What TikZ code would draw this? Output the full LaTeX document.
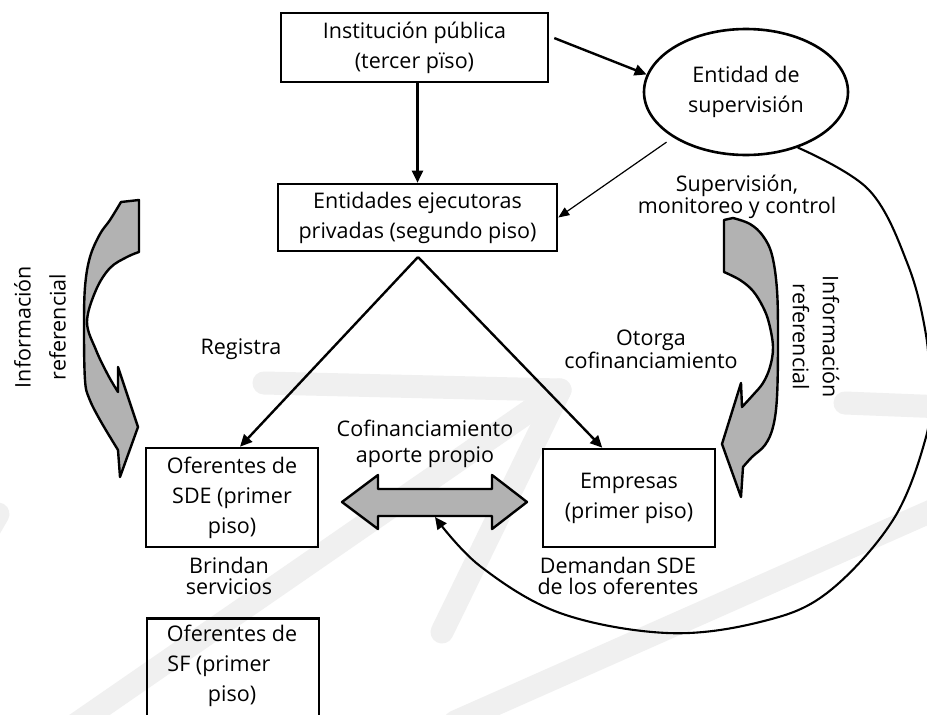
\documentclass[tikz,border=0pt]{standalone}
\usepackage{fontspec}
\setmainfont{Open Sans}
\usetikzlibrary{arrows.meta,shapes.geometric}
\newcommand\dgboxfont{\fontsize{21.5}{30}\selectfont}
\newcommand\dglblfont{\fontsize{21.5}{21}\selectfont}
\begin{document}
\begin{tikzpicture}[x=1pt,y=-1pt,
  box/.style={draw, line width=2.6pt, inner sep=0pt, align=center, font=\dgboxfont},
  lbl/.style={inner sep=0pt, align=center, font=\dglblfont},
  arr/.style={line width=2.4pt, -{Triangle[length=12pt,width=11pt]}},
  thinarr/.style={line width=1.2pt, -{Triangle[length=11pt,width=9pt]}},
  bigshape/.style={draw, line width=2.4pt, fill=black!30, line join=round},
  wmark/.style={line width=23pt, draw=black!6, line cap=round, line join=round}
]
\fill[white] (0,0) rectangle (927,715);
\useasboundingbox (0,0) rectangle (927,715);

% faint background strokes
\draw[wmark] (264,383) -- (560,390) -- (442,632);
\draw[wmark] (46,745) -- (560,390);
\draw[wmark] (845,403) -- (945,407);
\draw[wmark] (455,722) -- (945,505);
\draw[wmark] (-20,545) -- (-2,514);

% boxes
\node[box, minimum width=267pt, minimum height=69pt] (inst) at (414.5,47.5)
  {Institución pública\\(tercer pïso)};
\node[box, minimum width=279pt, minimum height=67pt] (ejec) at (417.5,217.5)
  {Entidades ejecutoras\\privadas (segundo piso)};
\node[draw, ellipse, line width=2.6pt, inner sep=0pt, minimum width=204pt,
  minimum height=126pt, align=center, font=\dgboxfont] (sup) at (746,92)
  {Entidad de\\supervisión};
\node[box, minimum width=172pt, minimum height=99pt] (sde) at (232,497.5)
  {Oferentes de\\SDE (primer\\piso)};
\node[box, minimum width=172pt, minimum height=98pt] (emp) at (629,498)
  {Empresas\\(primer piso)};
\node[box, anchor=north, minimum width=172pt, minimum height=140pt] (sf) at (233,617) {};
\node[lbl, font=\dgboxfont] (sftxt) at (232,666)
  {Oferentes de\\SF (primer\rule{26pt}{0pt}\\piso)};

% labels
\node[lbl, font={\fontsize{21.5}{22}\selectfont}] (lsup) at (737,197)
  {Supervisión,\\monitoreo y control};
\node[lbl] (lreg) at (241,349.5) {Registra};
\node[lbl] (lotor) at (651,349) {Otorga\\cofinanciamiento};
\node[lbl, font={\fontsize{21.5}{26}\selectfont}] (lcof) at (425,444)
  {Cofinanciamiento\\aporte propio};
\node[lbl] (lbrin) at (229,576) {Brindan\\servicios};
\node[lbl] (ldem) at (618,576) {Demandan SDE\\de los oferentes};
\node[lbl, rotate=90, font={\fontsize{21.5}{35}\selectfont}] (linfl) at (40,327)
  {Información\\referencial};
\node[lbl, rotate=-90, font={\fontsize{21.5}{30}\selectfont}] (linfr) at (816,337)
  {Información\\referencial};

% connectors
\draw[arr] (inst.south -| ejec.north) -- (ejec.north);
\draw[arr] ([xshift=5pt]inst.4) -- (sup.170);
\draw[thinarr, shorten <=8pt] (sup.212) -- (ejec.east);
\coordinate (apex) at (418,257);
\draw[arr] (apex) -- (sde.81);
\draw[arr] (apex) -- (emp.118);

% double arrow between providers and firms
\draw[bigshape] (342,502) -- (378,475) -- (378,489) -- (492,489) -- (492,475)
  -- (527,502) -- (492,529) -- (492,516) -- (378,516) -- (378,529) -- cycle;
\coordinate (dblbot) at (435,517);

% return arc from the supervising entity
\draw[arr, line width=2.1pt] plot[smooth, tension=0.6] coordinates {(sup.-47) (869,190)
  (908,265) (926,335) (929,390) (926,437) (893,520) (827,593) (760,622) (667,633)
  (560,613) (480,566) (dblbot)};

% curved arrows on the left and right
\draw[bigshape] (139,200) -- (121,202) -- plot[smooth, tension=0.6] coordinates {(121,202)
  (110,220) (100,234) (90,257) (85,287) (84,330) (85,380) (89,398) (100,420) (118,450)}
  -- (120,477) -- (138,427) -- (118,367) -- (118,392)
  -- plot[smooth, tension=0.6] coordinates {(118,392) (108,375) (96,350) (87,322)
  (96,290) (110,268) (127,257) (139,252)} -- cycle;
\draw[bigshape] (724,220) -- (733,218) -- plot[smooth, tension=0.6] coordinates {(733,218)
  (750,224) (763,236) (772,255) (777,290) (778,340) (777,397) (773,427) (765,445)
  (752,457) (743,467)}
  -- (741,497) -- (722,444) -- (741,383) -- (742,407)
  -- plot[smooth, tension=0.6] coordinates {(742,407) (753,395) (763,383) (770,367)
  (773,347) (769,323) (763,307) (753,291) (740,280) (724,272)} -- cycle;
\end{tikzpicture}
\end{document}
